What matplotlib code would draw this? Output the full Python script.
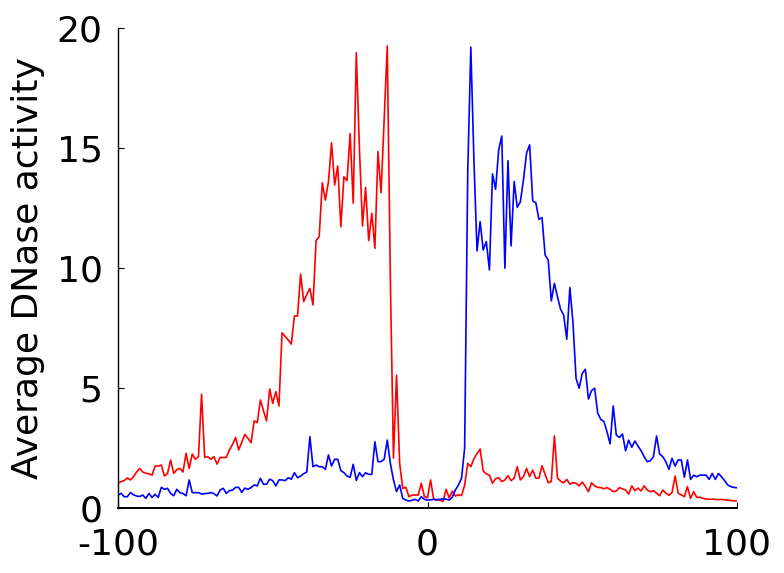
import numpy as np
import matplotlib
matplotlib.use("Agg")
import matplotlib.pyplot as plt

plt.rcParams["axes.unicode_minus"] = False

# position relative to the site, -100 .. 100
pos = np.arange(-100, 101)

red = [
    1.03, 1.1, 1.14, 1.25, 1.17, 1.3, 1.5, 1.65, 1.5, 1.45,          # -100..-91
    1.42, 1.37, 1.75, 1.75, 1.79, 1.33, 1.44, 2.0, 1.44, 1.6,        # -90..-81
    1.65, 1.5, 2.28, 1.65, 2.25, 2.03, 2.14, 4.74, 2.11, 2.14,       # -80..-71
    2.03, 2.14, 1.83, 2.11, 2.1, 2.11, 2.42, 2.65, 2.94, 2.42,       # -70..-61
    2.75, 3.07, 2.9, 2.72, 3.63, 3.56, 4.5, 4.05, 3.63, 4.96,        # -60..-51
    4.36, 4.85, 4.25, 7.3, 7.15, 7.0, 6.83, 8.0, 8.0, 9.75,          # -50..-41
    8.6, 8.9, 9.15, 8.46, 11.14, 11.3, 13.55, 12.83, 13.6, 15.22,    # -40..-31
    13.46, 14.25, 11.72, 13.8, 13.64, 15.6, 12.7, 18.97, 15.0, 11.75,  # -30..-21
    13.36, 11.14, 12.28, 10.82, 14.85, 13.14, 16.2, 19.25, 9.5, 2.08,  # -20..-11
    5.54, 1.86, 0.82, 0.86, 0.47, 0.54, 0.54, 0.54, 1.03, 0.47,      # -10..-1
    0.43, 1.17, 0.36, 0.33, 0.33, 0.27, 0.78, 0.42, 0.7, 0.5,        # 0..9
    0.55, 0.52, 0.95, 1.86, 1.72, 2.05, 2.27, 2.46, 1.54, 1.42,      # 10..19
    1.37, 1.03, 1.22, 1.26, 1.1, 1.17, 1.35, 1.14, 1.24, 1.72,       # 20..29
    1.17, 1.31, 1.65, 1.31, 1.58, 1.24, 1.24, 1.76, 1.4, 1.05,       # 30..39
    1.1, 3.0, 1.24, 1.12, 1.05, 1.19, 0.99, 1.06, 1.03, 0.92,        # 40..49
    1.08, 0.9, 0.68, 1.05, 0.92, 0.86, 0.85, 0.8, 0.85, 0.78,        # 50..59
    0.68, 0.71, 0.85, 0.8, 0.75, 0.58, 0.92, 0.72, 0.83, 0.71,       # 60..69
    0.92, 0.75, 0.68, 0.72, 0.62, 0.51, 0.75, 0.62, 0.53, 0.64,      # 70..79
    1.33, 0.61, 0.55, 0.47, 0.89, 0.4, 0.68, 0.44, 0.45, 0.4,        # 80..89
    0.38, 0.36, 0.37, 0.36, 0.35, 0.36, 0.34, 0.33, 0.31, 0.3,       # 90..99
    0.29,                                                            # 100
]

blue = [
    0.54, 0.61, 0.47, 0.47, 0.64, 0.55, 0.5, 0.48, 0.54, 0.4,        # -100..-91
    0.61, 0.44, 0.57, 0.44, 0.86, 0.78, 0.82, 0.61, 0.51, 0.78,      # -90..-81
    0.64, 0.6, 0.51, 1.17, 0.64, 0.64, 0.64, 0.58, 0.6, 0.61,        # -80..-71
    0.64, 0.6, 0.5, 0.75, 0.82, 0.61, 0.72, 0.75, 0.86, 0.86,        # -70..-61
    0.65, 0.83, 0.78, 0.85, 0.96, 0.92, 1.24, 0.99, 0.99, 1.2,       # -60..-51
    1.14, 0.92, 1.17, 1.17, 1.14, 1.26, 1.2, 1.47, 1.26, 1.33,       # -50..-41
    1.43, 1.5, 2.97, 1.72, 1.79, 1.72, 1.72, 1.61, 2.21, 1.75,       # -40..-31
    2.03, 2.03, 1.56, 1.47, 1.33, 1.28, 1.82, 1.15, 1.47, 1.31,      # -30..-21
    1.47, 1.4, 1.4, 2.76, 1.93, 1.93, 2.03, 2.83, 1.86, 1.17,        # -20..-11
    0.68, 0.96, 0.4, 0.33, 0.29, 0.32, 0.36, 0.29, 0.47, 0.36,       # -10..-1
    0.33, 0.34, 0.36, 0.35, 0.36, 0.38, 0.37, 0.33, 0.45, 0.75,      # 0..9
    0.96, 1.24, 2.5, 14.0, 19.2, 14.5, 10.71, 11.93, 10.75, 11.1,    # 10..19
    9.92, 13.92, 13.28, 14.92, 15.5, 9.99, 14.47, 10.92, 13.6, 12.53,  # 20..29
    12.76, 13.67, 14.78, 15.13, 12.79, 12.72, 12.03, 12.1, 10.54, 10.33,  # 30..39
    8.63, 9.36, 8.8, 8.28, 8.04, 7.03, 9.19, 7.72, 5.4, 4.99,        # 40..49
    5.61, 5.78, 4.54, 4.89, 4.99, 3.95, 3.69, 3.6, 3.18, 2.67,       # 50..59
    4.25, 3.04, 2.94, 3.08, 2.38, 2.83, 2.53, 2.79, 2.58, 2.39,      # 60..69
    2.14, 1.93, 1.97, 2.14, 3.0, 2.25, 2.14, 1.93, 1.61, 2.07,       # 70..79
    1.75, 2.0, 2.0, 1.28, 2.0, 1.19, 1.37, 1.3, 1.37, 1.37,          # 80..89
    1.37, 1.19, 1.44, 1.19, 1.44, 1.3, 1.14, 0.96, 0.89, 0.86,       # 90..99
    0.84,                                                            # 100
]

xticks = [-100, 0, 100]
yticks = [0, 5, 10, 15, 20]

fig = plt.figure(figsize=(7.84, 5.73), dpi=100)
ax = fig.add_axes([118 / 784, 65 / 573, 619 / 784, 480 / 573])

ax.plot(pos, red, color="#ff0000", lw=1.2)
ax.plot(pos, blue, color="#0000ff", lw=1.2)

ax.set_xlim(-100, 100)
ax.set_ylim(0, 20)
ax.set_xticks(xticks)
ax.set_yticks(yticks)
ax.spines["top"].set_visible(False)
ax.spines["right"].set_visible(False)
ax.spines["bottom"].set_linewidth(1.4)
ax.spines["left"].set_linewidth(1.0)
ax.tick_params(direction="in", length=4, width=0.8, labelsize=26)
ax.tick_params(axis="y", pad=11)
ax.tick_params(axis="x", pad=14)
ax.set_ylabel("Average DNase activity", fontsize=26)
ax.yaxis.set_label_coords(-0.118, 0.5)

fig.savefig("out.png", dpi=100)
